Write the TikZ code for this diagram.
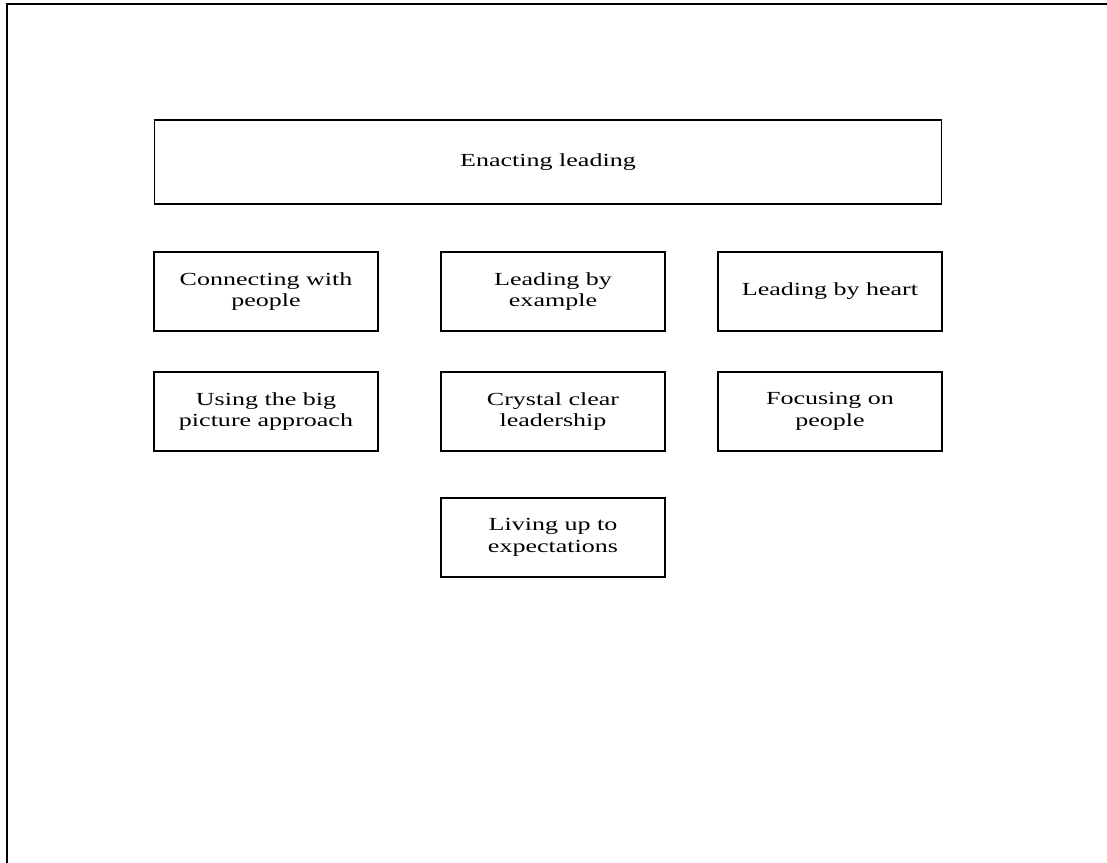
\documentclass[tikz,border=0pt]{standalone}
\usepackage{fontspec}
\setmainfont{Liberation Serif}[FakeStretch=1.41]
\usepackage{tikz}
\usetikzlibrary{positioning}

\begin{document}
\begin{tikzpicture}[
    x=0.02cm, y=-0.02cm,
    every node/.style={rectangle, draw=black, line width=0.6pt, align=center, inner sep=2pt, font=\fontsize{10.5}{12.2}\selectfont, fill=white},
    themebox/.style={minimum width=4.48cm, minimum height=1.58cm}
]
\useasboundingbox (0,0) rectangle (1107,863);
% ---- outer frame (top and left only) ----
\draw[line width=1.5pt] (7,863) -- (7,4) -- (1107,4);

% ---- main box ----
\node[minimum width=15.76cm, minimum height=1.68cm] (enact) at (548,162) {Enacting leading};

% ---- first row ----
\node[themebox] (connect) at (266,291.5) {Connecting with\\people};
\node[themebox] (example) at (553,291.5) {Leading by\\example};
\node[themebox] (heart) at (830,291.5) {Leading by heart};

% ---- second row ----
\node[themebox] (bigpic) at (266,411.5) {Using the big\\picture approach};
\node[themebox] (clear) at (553,411.5) {Crystal clear\\leadership};
\node[themebox] (focus) at (830,411.5) {Focusing on\\people};

% ---- third row ----
\node[themebox] (expect) at (553,537.5) {Living up to\\expectations};
\end{tikzpicture}
\end{document}
